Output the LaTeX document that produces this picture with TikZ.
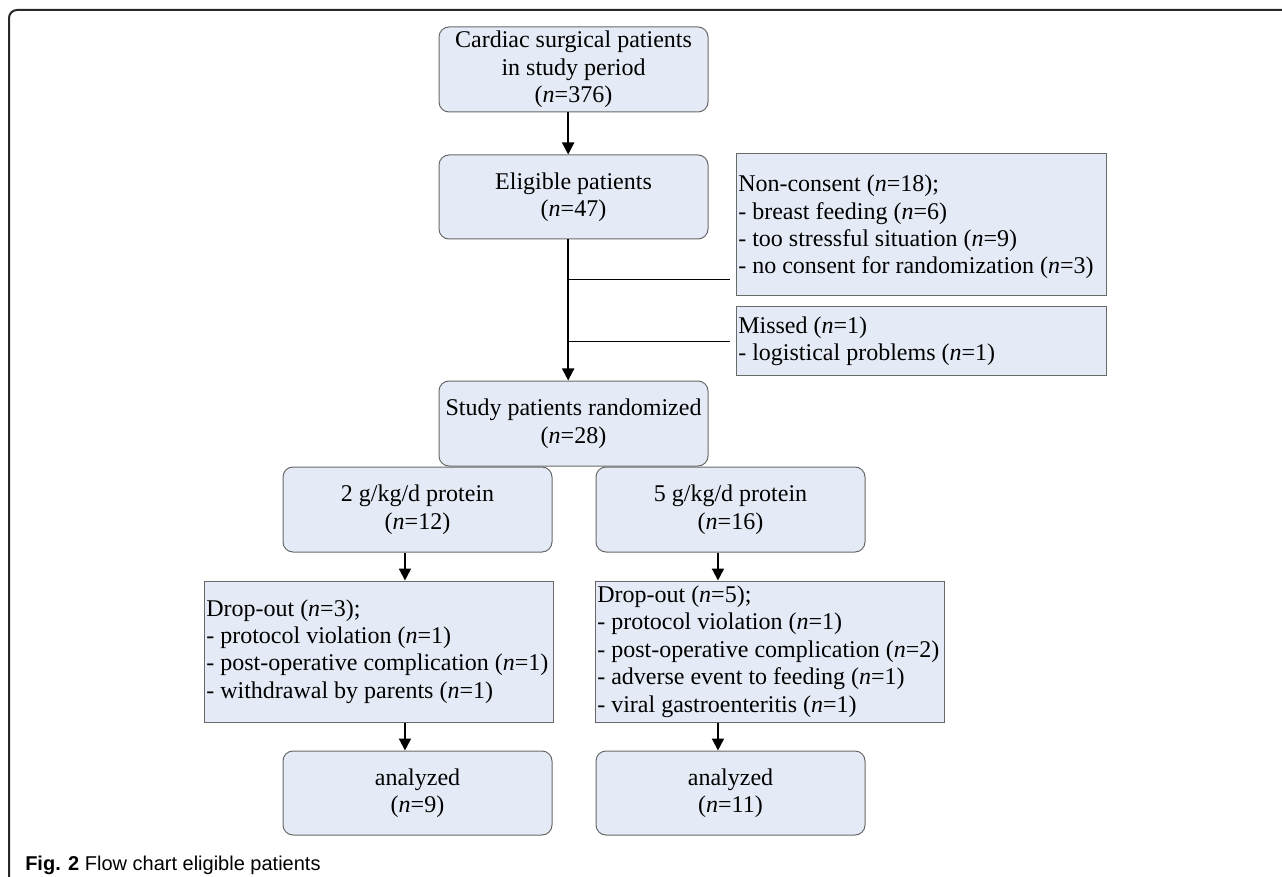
\documentclass[tikz,border=0pt]{standalone}
\usepackage{fontspec}
\setmainfont{Liberation Serif}
\setsansfont{Liberation Sans}
\usetikzlibrary{arrows.meta,calc}
\definecolor{boxfill}{RGB}{229,235,246}
\definecolor{boxline}{RGB}{105,105,105}
\definecolor{framecol}{RGB}{40,40,40}
\begin{document}
\begin{tikzpicture}[x=0.75pt,y=-0.75pt,
  txt/.style={font=\fontsize{18}{20.6}\selectfont},
  rbox/.style={txt, draw=boxline, line width=0.75pt, fill=boxfill, rounded corners=7.5pt,
               minimum width=201.75pt, minimum height=63.75pt, align=center, inner sep=0pt},
  sbox/.style={draw=boxline, line width=0.75pt, fill=boxfill, inner sep=0pt},
  stext/.style={txt, align=left, anchor=west, inner sep=0pt},
  conn/.style={line width=1.4pt, black},
  arr/.style={conn, -{Triangle[width=9pt,length=9pt]}}
]
\useasboundingbox (0,0) rectangle (1282,877);
\draw[framecol, line width=1.5pt, rounded corners=6pt] (9,880) -- (9,10) -- (1284,10);

\node[rbox] (start) at (573.5,69.5) {Cardiac surgical patients\\in study period\\(\textit{n}=376)};
\node[rbox, minimum height=63pt] (elig) at (573.5,197) {Eligible patients\\(\textit{n}=47)};

\node[sbox, minimum width=277.5pt, minimum height=106.5pt] (nc) at (921,225) {};
\node[stext] (ncT) at ($(nc.west)+(2.5,2)$)
  {Non-consent (\textit{n}=18);\\- breast feeding (\textit{n}=6)\\- too stressful situation (\textit{n}=9)\\- no consent for randomization (\textit{n}=3)};
\node[sbox, minimum width=277.5pt, minimum height=51.75pt] (miss) at (921,341.5) {};
\node[stext] (missT) at ($(miss.west)+(2.5,0)$)
  {Missed (\textit{n}=1)\\- logistical problems (\textit{n}=1)};

\node[rbox] (rand) at (573.5,423.5) {Study patients randomized\\(\textit{n}=28)};
\node[rbox] (low) at (417.5,509.5) {2 g/kg/d protein\\(\textit{n}=12)};
\node[rbox] (high) at (730.5,509.5) {5 g/kg/d protein\\(\textit{n}=16)};

\node[sbox, minimum width=261.75pt, minimum height=105.75pt] (dlow) at (378.5,651.5) {};
\node[stext] (dlowT) at ($(dlow.west)+(2.5,0)$)
  {Drop-out (\textit{n}=3);\\- protocol violation (\textit{n}=1)\\- post-operative complication (\textit{n}=1)\\- withdrawal by parents (\textit{n}=1)};
\node[sbox, minimum width=261.75pt, minimum height=105.75pt] (dhigh) at (769.5,651.5) {};
\node[stext] (dhighT) at ($(dhigh.west)+(2.5,0)$)
  {Drop-out (\textit{n}=5);\\- protocol violation (\textit{n}=1)\\- post-operative complication (\textit{n}=2)\\- adverse event to feeding (\textit{n}=1)\\- viral gastroenteritis (\textit{n}=1)};

\node[rbox, minimum height=63pt] (alow) at (417.5,793) {analyzed\\(\textit{n}=9)};
\node[rbox, minimum height=63pt] (ahigh) at (730.5,793) {analyzed\\(\textit{n}=11)};

\node[anchor=base west, font=\sffamily\fontsize{15}{18}\selectfont, inner sep=0pt] (cap) at (25,870)
  {\textbf{Fig. 2} Flow chart eligible patients};

% main spine
\coordinate (v1) at ([xshift=-4pt]start.south);
\draw[arr] (v1) -- (v1 |- elig.north);
\coordinate (vx) at ([xshift=-4pt]elig.south);
\draw[arr] (vx) -- (vx |- rand.north);
\coordinate (j1) at ($(vx)+(0,40)$);
\draw[conn] (j1) -- ($(j1 -| nc.west)+(-6,0)$);
\coordinate (j2) at (vx |- miss.west);
\draw[conn] (j2) -- ($(miss.west)+(-6,0)$);

% columns
\coordinate (la) at ([xshift=-9.4pt]low.south);
\draw[arr] (la) -- (la |- dlow.north);
\draw[arr] (la |- dlow.south) -- (la |- alow.north);
\coordinate (ra) at ([xshift=-9.4pt]high.south);
\draw[arr] (ra) -- (ra |- dhigh.north);
\draw[arr] (ra |- dhigh.south) -- (ra |- ahigh.north);
\end{tikzpicture}
\end{document}
